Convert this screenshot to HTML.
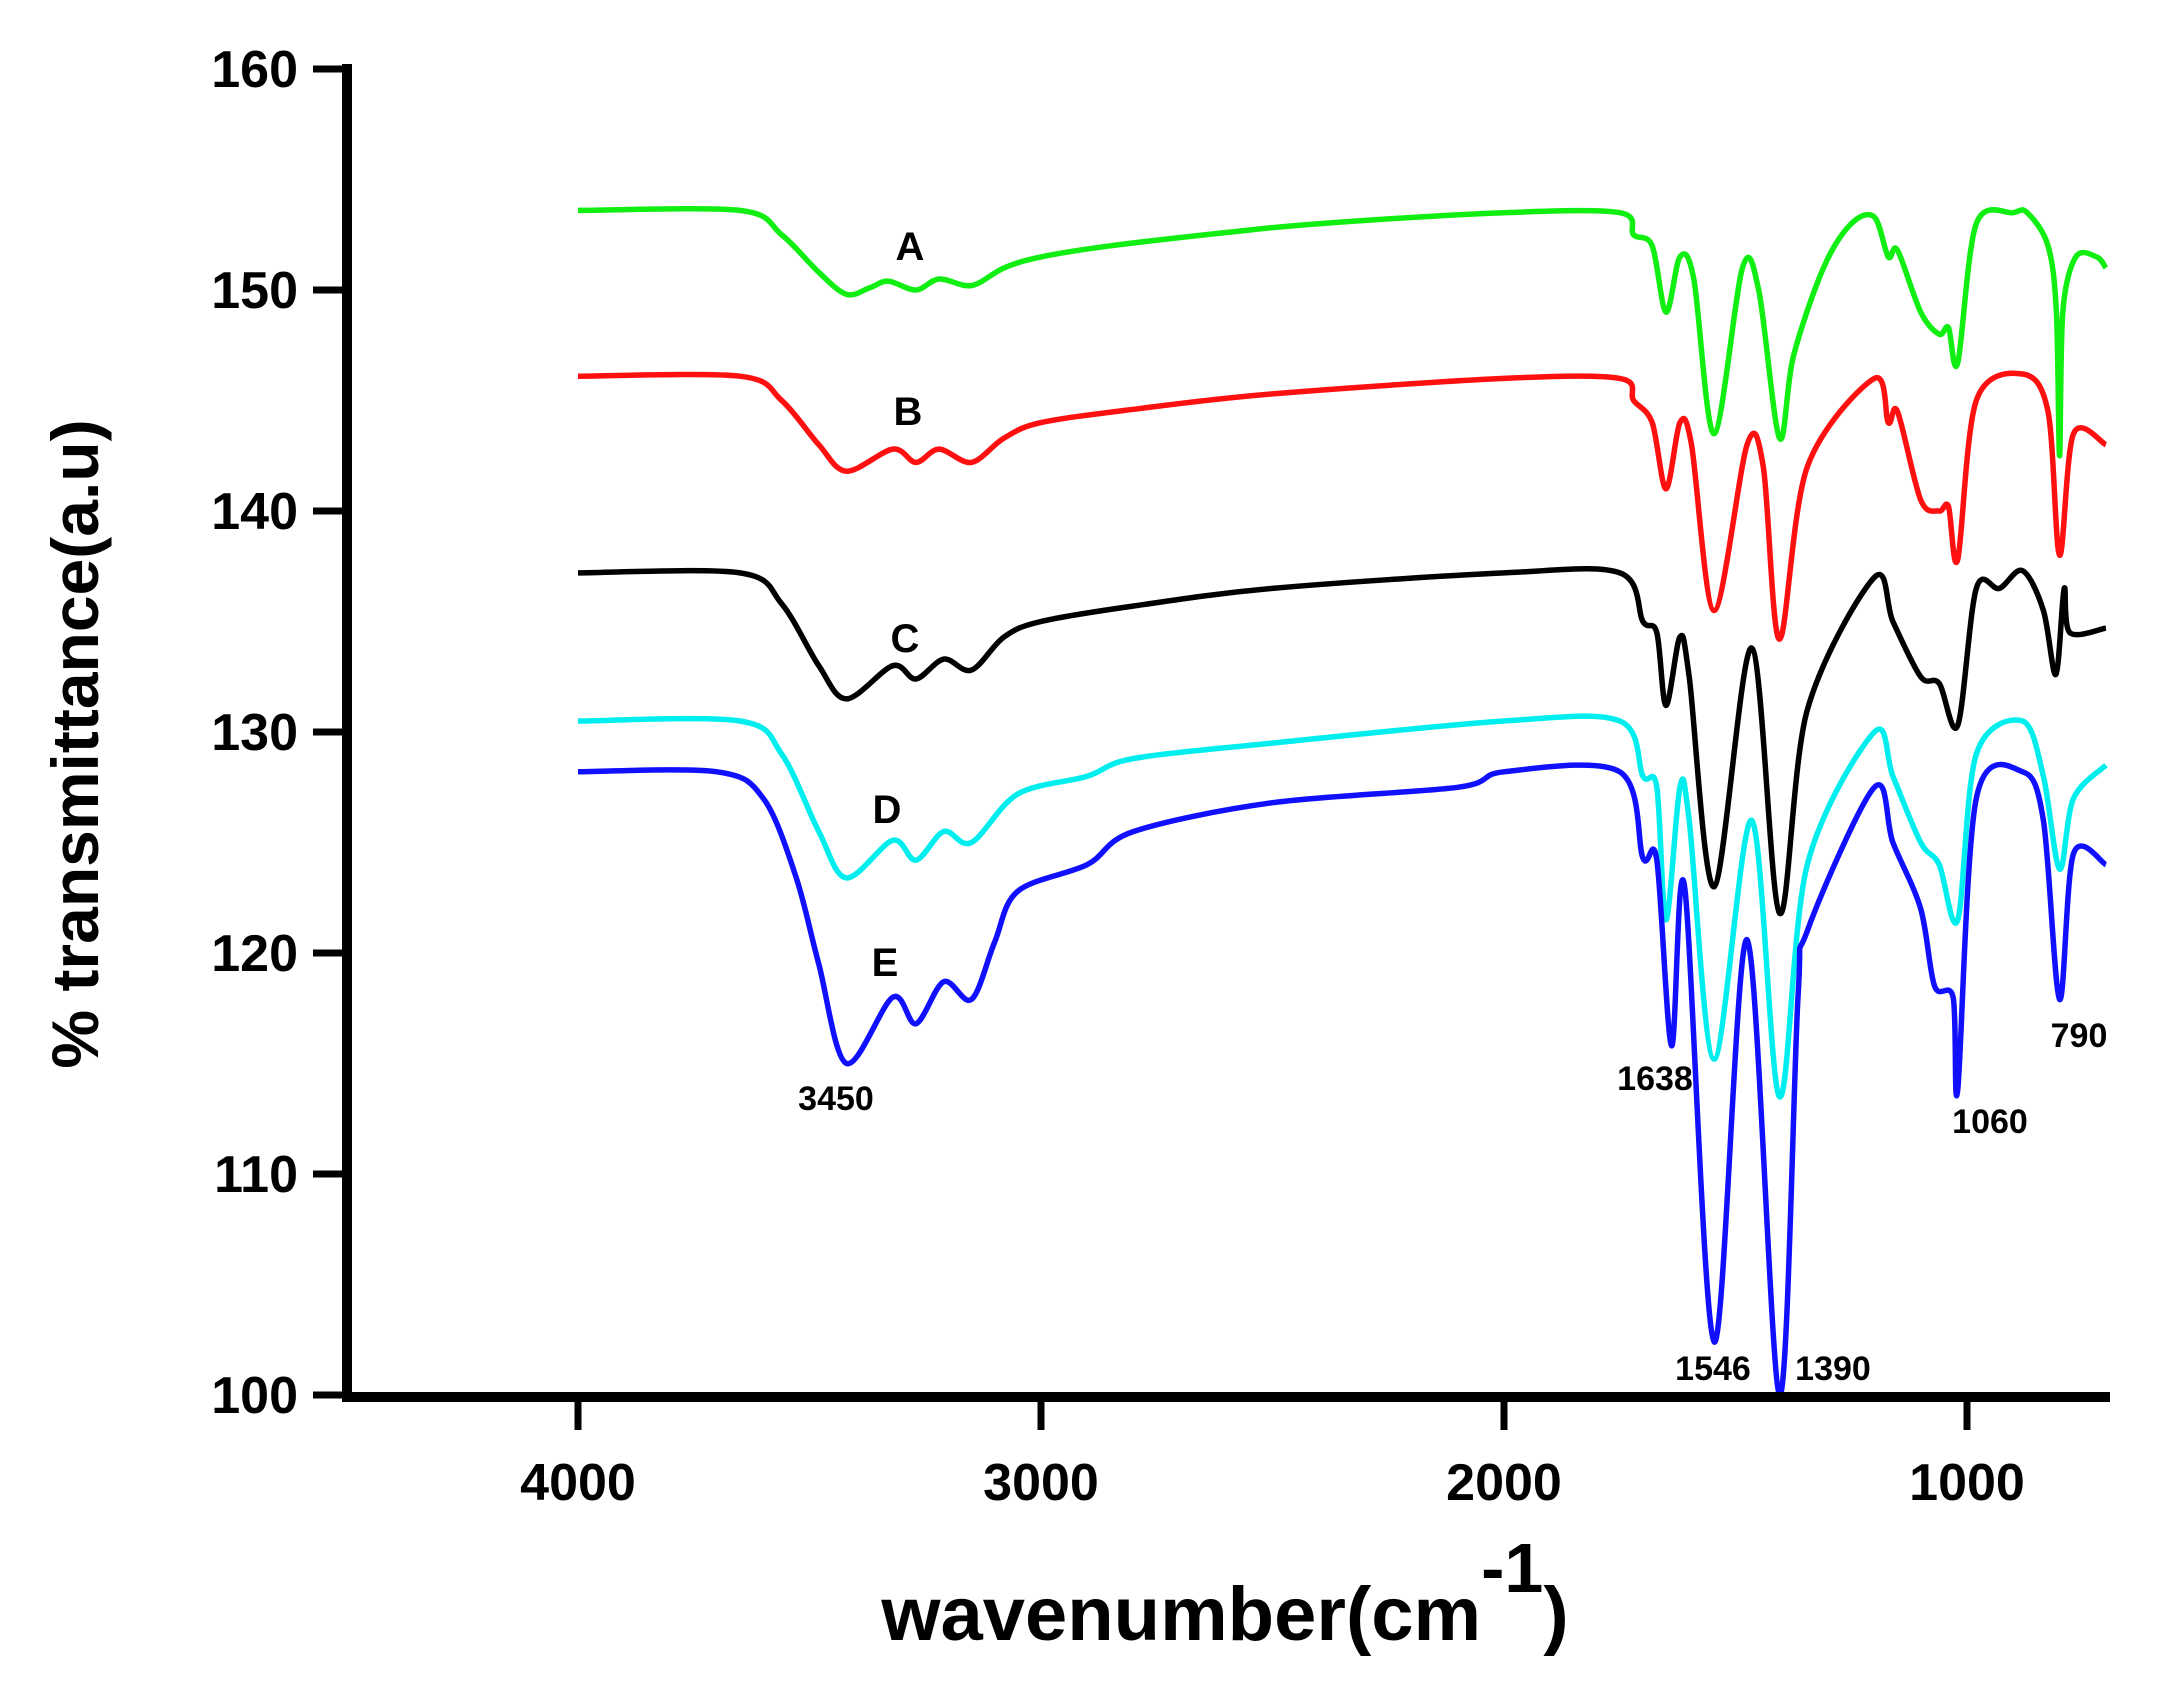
<!DOCTYPE html>
<html><head><meta charset="utf-8"><style>
html,body{margin:0;padding:0;background:#fff;}
svg{display:block;font-family:"Liberation Sans",Arial,sans-serif;font-weight:bold;}
</style></head><body>
<svg id="s" width="2158" height="1691" viewBox="0 0 2158 1691" xmlns="http://www.w3.org/2000/svg">
<rect width="2158" height="1691" fill="#fff"/>
<g id="curves"></g>
<g stroke="#000" stroke-width="10" fill="none">
<line x1="347" y1="64" x2="347" y2="1402"/>
<line x1="342" y1="1397" x2="2110" y2="1397"/>
</g>
<g stroke="#000" stroke-width="7">
<line x1="313" y1="69" x2="347" y2="69"/><line x1="313" y1="290" x2="347" y2="290"/>
<line x1="313" y1="511" x2="347" y2="511"/><line x1="313" y1="732" x2="347" y2="732"/>
<line x1="313" y1="953" x2="347" y2="953"/><line x1="313" y1="1174" x2="347" y2="1174"/>
<line x1="313" y1="1395" x2="347" y2="1395"/>
<line x1="578" y1="1397" x2="578" y2="1430"/><line x1="1041" y1="1397" x2="1041" y2="1430"/>
<line x1="1504" y1="1397" x2="1504" y2="1430"/><line x1="1967" y1="1397" x2="1967" y2="1430"/>
</g>
<g font-size="52" text-anchor="end">
<text x="298" y="87">160</text><text x="298" y="308">150</text><text x="298" y="529">140</text>
<text x="298" y="750">130</text><text x="298" y="971">120</text><text x="298" y="1192">110</text>
<text x="298" y="1413">100</text>
</g>
<g font-size="52" text-anchor="middle">
<text x="578" y="1500">4000</text><text x="1041" y="1500">3000</text>
<text x="1504" y="1500">2000</text><text x="1967" y="1500">1000</text>
</g>
<text x="1225" y="1640" font-size="76" text-anchor="middle">wavenumber(cm<tspan dy="-48" font-size="70">-1</tspan><tspan dy="48">)</tspan></text>
<text transform="translate(98,744) rotate(-90)" font-size="66" text-anchor="middle">% transmittance(a.u)</text>
<g font-size="40" text-anchor="middle">
<text x="910" y="260">A</text><text x="908" y="425">B</text><text x="905" y="652">C</text>
<text x="887" y="823">D</text><text x="885" y="976">E</text>
</g>
<g font-size="34" text-anchor="middle">
<text x="836" y="1110">3450</text><text x="1655" y="1090">1638</text>
<text x="1713" y="1380">1546</text><text x="1833" y="1380">1390</text>
<text x="1990" y="1133">1060</text><text x="2079" y="1047">790</text>
</g>
</svg>
<script>
const X=w=>578+(4000-w)*0.463, Y=v=>69+(160-v)*22.1;
const data={
"#11ee11":[[4000,153.6],[3650,153.6],[3560,152.5],[3480,150.8],[3420,149.8],[3370,150.1],[3330,150.4],[3270,150],[3220,150.5],[3150,150.2],[3080,151],[3000,151.5],[2850,152],[2600,152.6],[2400,153],[2000,153.5],[1750,153.5],[1720,152.5],[1680,152],[1650,149],[1620,151.5],[1590,150.5],[1546,143.5],[1485,151],[1450,150],[1405,143.3],[1375,147],[1310,151],[1250,153],[1200,153.3],[1170,151.5],[1150,151.8],[1100,149],[1060,148],[1040,148.3],[1020,146.7],[980,153],[900,153.5],[870,153.5],[825,152],[807,149],[800,142.5],[793,149],[765,151.5],[720,151.5],[700,151]],
"#ff1010":[[4000,146.1],[3650,146.1],[3560,145],[3480,143],[3420,141.8],[3320,142.8],[3270,142.2],[3220,142.8],[3150,142.2],[3080,143.3],[3000,144],[2800,144.6],[2500,145.3],[2000,146],[1750,146],[1720,145],[1680,144],[1650,141],[1620,144],[1595,143],[1546,135.5],[1475,143],[1440,142],[1405,134.2],[1345,142],[1200,146],[1170,144],[1150,144.5],[1100,140.5],[1060,140],[1040,140.2],[1020,137.8],[980,145],[880,146.2],[825,144.5],[800,138],[770,143.5],[700,143]],
"#000000":[[4000,137.2],[3650,137.2],[3560,135.8],[3480,133],[3420,131.5],[3320,133],[3270,132.4],[3210,133.3],[3150,132.8],[3080,134.3],[3000,135],[2800,135.7],[2500,136.5],[2000,137.2],[1750,137.2],[1700,135],[1670,134.5],[1650,131.2],[1620,134.3],[1600,132.5],[1546,123],[1465,133.8],[1405,121.8],[1345,131],[1200,137],[1160,135],[1100,132.5],[1060,132.2],[1020,130.3],[980,136.5],[930,136.5],[880,137.3],[835,135.5],[808,132.6],[790,136.5],[778,134.5],[700,134.7]],
"#00eeee":[[4000,130.5],[3650,130.5],[3560,129],[3480,125.5],[3420,123.4],[3320,125.1],[3270,124.2],[3210,125.5],[3150,125],[3050,127.2],[2900,128],[2800,128.8],[2500,129.5],[2000,130.5],[1750,130.5],[1700,128],[1670,127.5],[1650,121.5],[1620,127.5],[1600,126],[1546,115.2],[1465,126],[1405,113.5],[1345,124],[1200,130],[1160,128],[1100,125],[1060,124],[1020,121.5],[980,129],[880,130.5],[835,128],[800,123.8],[770,127],[700,128.5]],
"#1010ff":[[4000,128.2],[3700,128.2],[3600,127],[3530,123.5],[3480,119.5],[3420,115],[3320,118],[3270,116.8],[3210,118.7],[3150,117.9],[3100,120.5],[3050,122.8],[2900,124],[2800,125.5],[2500,126.8],[2100,127.5],[2000,128.2],[1750,128.2],[1700,124.3],[1670,124.2],[1638,115.8],[1610,123],[1546,102.4],[1475,120.6],[1405,100],[1365,118],[1345,121],[1200,127.5],[1160,125],[1100,122],[1070,118.5],[1030,118],[1020,113.8],[980,127],[880,128.2],[835,126],[800,117.9],[770,124.5],[700,124]]
};
let out="";
for(const c in data){
 const p=data[c].map(d=>[X(d[0]),Y(d[1])]);
 let s=`M${p[0][0].toFixed(1)},${p[0][1].toFixed(1)}`;
 for(let i=0;i<p.length-1;i++){
  const p0=p[Math.max(0,i-1)],p1=p[i],p2=p[i+1],p3=p[Math.min(p.length-1,i+2)];
  const t=0.16;
  const c1=[p1[0]+(p2[0]-p0[0])*t,p1[1]+(p2[1]-p0[1])*t];
  const c2=[p2[0]-(p3[0]-p1[0])*t,p2[1]-(p3[1]-p1[1])*t];
  s+=`C${c1[0].toFixed(1)},${c1[1].toFixed(1)} ${c2[0].toFixed(1)},${c2[1].toFixed(1)} ${p2[0].toFixed(1)},${p2[1].toFixed(1)}`;
 }
 out+=`<path d="${s}" fill="none" stroke="${c}" stroke-width="5.5" stroke-linejoin="round"/>`;
}
document.getElementById("curves").innerHTML=out;
</script>
</body></html>
